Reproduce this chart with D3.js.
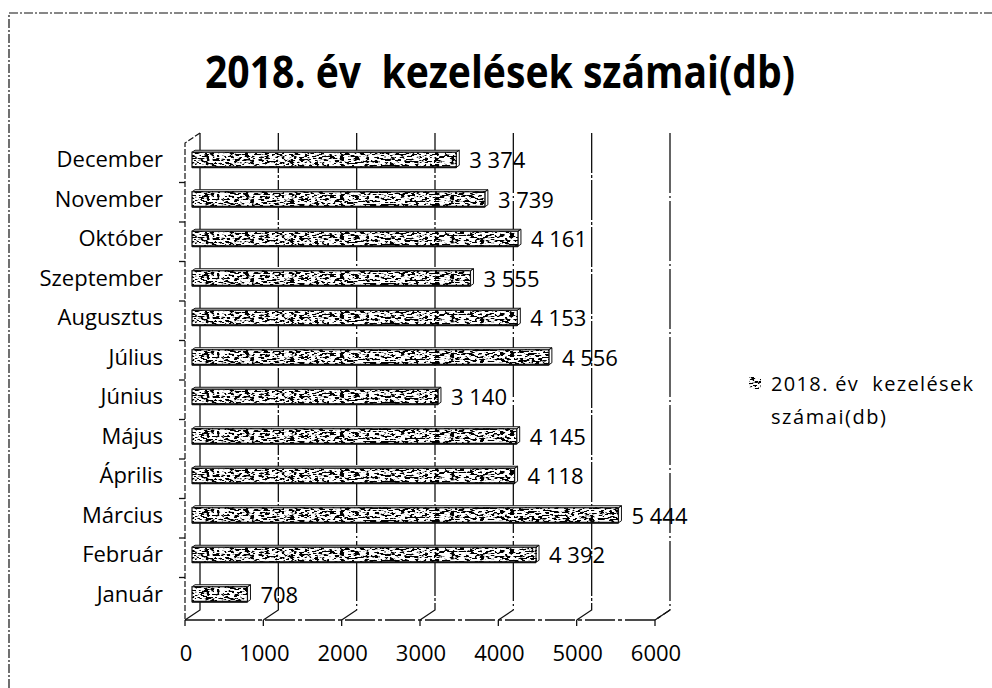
<!DOCTYPE html>
<html>
<head>
<meta charset="utf-8">
<script src="https://cdn.jsdelivr.net/npm/d3@7"></script>
<style>
  body { margin: 0; background: #fff; }
  svg { display: block; font-family: 'Open Sans', sans-serif; }
  text { white-space: pre; }
</style>
</head>
<body>
<svg width="992" height="688"></svg>
<script>
const svg = d3.select('svg')

// data
const months = ['Január', 'Február', 'Március', 'Április', 'Május', 'Június',
	'Július', 'Augusztus', 'Szeptember', 'Október', 'November', 'December']
const counts = [708, 4392, 5444, 4118, 4145, 3140, 4556, 4153, 3555, 4161, 3739, 3374]
const xTicks = [0, 1000, 2000, 3000, 4000, 5000, 6000]
const title = '2018. év  kezelések számai(db)'
const legendLines = ['2018. év  kezelések', 'számai(db)']

const rows = months.map((m, i) => ({ month: m, value: counts[i] }))

const fmt = d3.formatLocale({ decimal: ',', thousands: '\u00a0', grouping: [3], currency: ['', ''] }).format(',d')

// 3d box: back wall, bar plane, front floor edge
const depth = { dx: 15, dy: 10 }
const xBack = d3.scaleLinear().domain([0, 6000]).range([200, 670])
const xBar = d3.scaleLinear().domain([0, 6000]).range([192, 662])
const xFront = d3.scaleLinear().domain([0, 6000]).range([185, 655])
const y = d3.scaleBand().domain(months.slice().reverse()).range([140, 614])
const wallTop = 133
const floorBack = 610
const floorFront = floorBack + depth.dy
const barH = 15

/* speckle texture, like the scanned fill */
const defs = svg.append('defs')
const f = defs.append('filter').attr('id', 'speckle')
	.attr('x', 0).attr('y', 0).attr('width', 1).attr('height', 1)
f.append('feTurbulence').attr('type', 'fractalNoise')
	.attr('baseFrequency', '0.2 0.55').attr('numOctaves', 2).attr('seed', 4).attr('result', 'n')
f.append('feColorMatrix').attr('in', 'n').attr('type', 'matrix')
	.attr('values', '0 0 0 0 0  0 0 0 0 0  0 0 0 0 0  14 0 0 0 -6.9').attr('result', 'dots')
f.append('feFlood').attr('flood-color', '#fff').attr('result', 'w')
f.append('feMerge').selectAll('feMergeNode').data(['w', 'dots']).join('feMergeNode').attr('in', d => d)

// outer border
svg.append('path')
	.attr('d', 'M9,688 V13 H992')
	.attr('fill', 'none').attr('stroke', '#111').attr('stroke-width', 1.2)
	.attr('stroke-dasharray', '9,2,2,2')

svg.append('text')
	.attr('x', 500).attr('y', 88)
	.attr('text-anchor', 'middle')
	.attr('font-size', 44).attr('font-weight', 'bold')
	.attr('textLength', 590).attr('lengthAdjust', 'spacingAndGlyphs')
	.text(title)

const grid = svg.append('g').attr('stroke', '#111').attr('fill', 'none').attr('stroke-width', 1.3)

// back wall gridlines + floor diagonals
grid.selectAll('.vg').data(xTicks).join('path')
	.attr('class', 'vg')
	.attr('d', d => `M${xBack(d)},${wallTop} V${floorBack} L${xFront(d)},${floorFront}`)
	.attr('stroke-dasharray', (d, i) => i === 0 ? null : (i % 2 ? '40,2,3,2' : '60,3,2,3'))

// left wall
grid.append('path')
	.attr('d', `M${xBack(0)},${wallTop} L${xFront(0)},${wallTop + depth.dy} V${floorFront}`)
	.attr('stroke-dasharray', '6,2')
	.attr('stroke-width', 1.2)

// floor front edge
grid.append('path')
	.attr('d', `M${xFront(0)},${floorFront} H${xFront(6000)} L${xBack(6000)},${floorBack}`)
	.attr('stroke-dasharray', '30,3,4,3')

// ticks on front floor edge
grid.selectAll('.xt').data(xTicks).join('line')
	.attr('class', 'xt')
	.attr('x1', d => xFront(d)).attr('x2', d => xFront(d))
	.attr('y1', floorFront).attr('y2', floorFront + 6)

// category ticks on left wall
grid.selectAll('.yt').data(months.slice(1)).join('line')
	.attr('class', 'yt')
	.attr('x1', xFront(0) - 6).attr('x2', xFront(0))
	.attr('y1', d => y(d) + y.bandwidth() + 3).attr('y2', d => y(d) + y.bandwidth() + 3)

// bars
const bars = svg.append('g').selectAll('g').data(rows).join('g')
	.attr('transform', d => `translate(0,${y(d.month) + (y.bandwidth() - barH) / 2})`)

bars.append('path')
	.attr('d', d => `M${xBar(0)},0 l3,-2 H${xBar(d.value) + 3} l-3,2 Z M${xBar(d.value)},0 l3,-2 v${barH} l-3,2 Z`)
	.attr('fill', '#fff').attr('stroke', '#111').attr('stroke-width', 1)

bars.append('rect')
	.attr('x', xBar(0)).attr('y', 0)
	.attr('width', d => xBar(d.value) - xBar(0)).attr('height', barH)
	.attr('filter', 'url(#speckle)')

bars.append('rect')
	.attr('x', xBar(0)).attr('y', 0)
	.attr('width', d => xBar(d.value) - xBar(0)).attr('height', barH)
	.attr('fill', 'none').attr('stroke', '#111').attr('stroke-width', 1.2)

bars.append('line')
	.attr('x1', xBar(0)).attr('x2', d => xBar(d.value))
	.attr('y1', barH).attr('y2', barH)
	.attr('stroke', '#111').attr('stroke-width', 2)

bars.append('text')
	.attr('x', d => xBar(d.value) + 13).attr('y', barH / 2 + 1)
	.attr('dy', '0.35em')
	.attr('font-size', 22)
	.text(d => fmt(d.value))

// category labels
svg.append('g').selectAll('text').data(months).join('text')
	.attr('x', 163).attr('y', d => y(d) + y.bandwidth() / 2)
	.attr('dy', '0.35em')
	.attr('text-anchor', 'end')
	.attr('font-size', 22)
	.text(d => d)

// x labels
svg.append('g').selectAll('text').data(xTicks).join('text')
	.attr('x', d => xFront(d) + 1).attr('y', 653)
	.attr('dy', '0.35em')
	.attr('text-anchor', 'middle')
	.attr('font-size', 22)
	.text(d => d)

// legend
const lg = svg.append('g')
lg.append('rect')
	.attr('x', 749).attr('y', 377).attr('width', 12).attr('height', 12)
	.attr('filter', 'url(#speckle)')
lg.selectAll('text').data(legendLines).join('text')
	.attr('x', 771).attr('y', (d, i) => 384 + i * 33)
	.attr('dy', '0.35em')
	.attr('font-size', 20)
	.attr('textLength', (d, i) => i ? 115 : 202)
	.attr('lengthAdjust', 'spacing')
	.text(d => d)
</script>
</body>
</html>
